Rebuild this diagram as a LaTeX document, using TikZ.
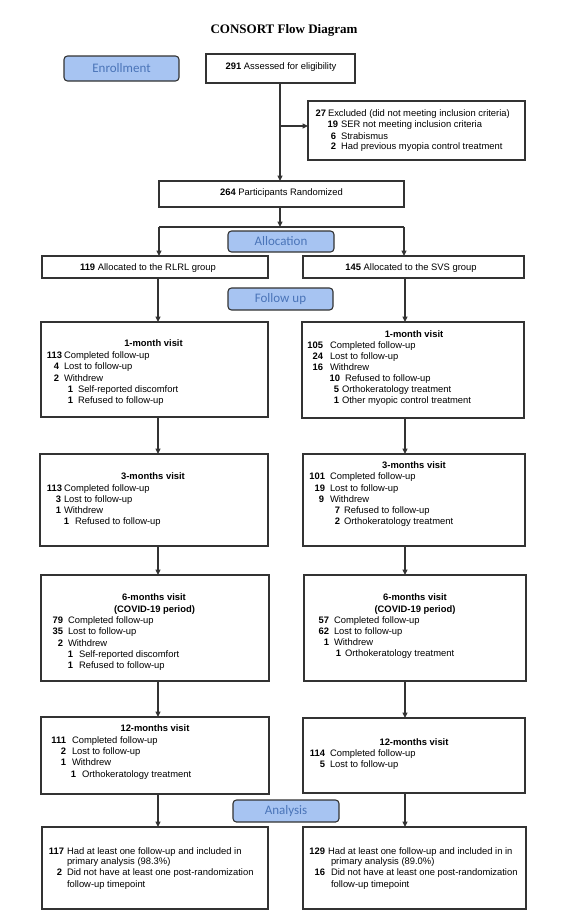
\documentclass[tikz,border=0pt]{standalone}
\usepackage{fontspec}
\setmainfont{Liberation Sans}
\newfontfamily\serifbf{Liberation Serif}
\newfontfamily\calib{Carlito}
\usetikzlibrary{arrows.meta}
\definecolor{ln}{HTML}{333333}
\definecolor{phfill}{HTML}{A7C4F2}
\definecolor{phtext}{HTML}{4A74B8}
\tikzset{
  box/.style={draw=ln, line width=1.1pt, fill=white, inner sep=0pt, outer sep=0pt},
  phase/.style={draw=ln, line width=1.1pt, fill=phfill, rounded corners=3.5pt, inner sep=0pt, outer sep=0pt, text=phtext, font=\calib\fontsize{13}{15}\selectfont},
  txt/.style={inner sep=0pt, outer sep=0pt, font=\fontsize{9.4}{11}\selectfont, text=black},
  numt/.style={txt, font=\fontsize{9.4}{11}\selectfont\bfseries},
  ttl/.style={txt, anchor=mid, font=\fontsize{9.4}{11}\selectfont\bfseries},
  arr/.style={draw=ln, line width=1.1pt, -{Triangle[length=5.5pt,width=5pt]}},
  con/.style={draw=ln, line width=1.1pt},
}
\newcounter{tn}
% box: name, x1, y1, x2, y2
\newcommand\bx[5]{\node[box, minimum width={(#4)-(#2)}, minimum height={(#5)-(#3)}] (#1) at ({((#2)+(#4))/2},{((#3)+(#5))/2}) {};}
% phase label: name, x1, y1, x2, y2, text
\newcommand\ph[6]{\node[phase, minimum width={(#4)-(#2)}, minimum height={(#5)-(#3)}] (#1) at ({((#2)+(#4))/2},{((#3)+(#5))/2}) {#6};}
% entry: number right edge, text left edge, y, number, text
\newcommand\ent[5]{\stepcounter{tn}%
  \node[numt, anchor=mid east] (n\thetn) at (#1,#3) {#4};%
  \node[txt, anchor=mid west] (t\thetn) at (#2,#3) {#5};}
\newcommand\cont[3]{\stepcounter{tn}%
  \node[txt, anchor=mid west] (c\thetn) at (#1,#2) {#3};}
\newcommand\ttlnode[3]{\stepcounter{tn}%
  \node[ttl] (h\thetn) at (#1,#2) {#3};}
\begin{document}
\begin{tikzpicture}[x=1pt,y=-1pt]
\useasboundingbox (0,0) rectangle (574,921);

\node[inner sep=0pt, font=\serifbf\bfseries\fontsize{13}{15}\selectfont] (title) at (284,30) {CONSORT Flow Diagram};

% phase labels
\ph{enr}{64}{56}{179}{81}{Enrollment}
\ph{alloc}{228}{231}{334}{252}{Allocation}
\ph{fup}{228}{288}{333}{310}{Follow up}
\ph{anal}{233}{800}{339}{822}{Analysis}

% boxes
\bx{assess}{206}{54}{355}{83}
\bx{excl}{308}{101}{525}{160}
\bx{rand}{159}{181}{404}{207}
\bx{rlrl}{42}{256}{268}{278}
\bx{svs}{303}{256}{524}{278}
\bx{mal}{41}{322}{268}{417}
\bx{mar}{302}{322}{524}{418}
\bx{tl}{40}{454}{268}{546}
\bx{tr}{303}{454}{525}{546}
\bx{sl}{41}{575}{269}{681}
\bx{sr}{304}{575}{526}{681}
\bx{wl}{41}{717}{269}{794}
\bx{wr}{303}{718}{525}{793}
\bx{fl}{42}{827}{268}{909}
\bx{fr}{303}{827}{526}{909}

% connectors
\coordinate (cA) at (280,0);
\coordinate (exo) at (280,126);
\coordinate (jc) at (280,227);
\coordinate (jl) at (159,227);
\coordinate (jr) at (404,227);
\coordinate (cl) at (158,0);
\coordinate (cr) at (405,0);
\draw[arr] (cA |- assess.south) -- (cA |- rand.north);
\draw[arr] (exo) -- (exo -| excl.west);
\draw[con] (jl) -- (jr);
\draw[arr] (cA |- rand.south) -- (jc);
\draw[arr] (jl) -- (jl |- rlrl.north);
\draw[arr] (jr) -- (jr |- svs.north);
\foreach \a/\b in {rlrl/mal, mal/tl, tl/sl, sl/wl, wl/fl}
  \draw[arr] (cl |- \a.south) -- (cl |- \b.north);
\foreach \a/\b in {svs/mar, mar/tr, tr/sr, sr/wr, wr/fr}
  \draw[arr] (cr |- \a.south) -- (cr |- \b.north);

% single-line box texts
\node[txt, anchor=mid] (assesst) at (281,67) {\textbf{291} Assessed for eligibility};
\node[txt, anchor=mid] (randt) at (281.5,193) {\textbf{264} Participants Randomized};
\node[txt, anchor=mid] (rlrlt) at (148,268) {\textbf{119} Allocated to the RLRL group};
\node[txt, anchor=mid] (svst) at (411,268) {\textbf{145} Allocated to the SVS group};

% excluded
\ent{326}{328}{114}{27}{Excluded (did not meeting inclusion criteria)}
\ent{338}{341}{125}{19}{SER not meeting inclusion criteria}
\ent{336}{341}{137}{6}{Strabismus}
\ent{336}{341}{147}{2}{Had previous myopia control treatment}

% 1-month left
\ttlnode{153.5}{344}{1-month visit}
\ent{62}{64}{356}{113}{Completed follow-up}
\ent{59}{64}{367}{4}{Lost to follow-up}
\ent{59}{64}{379}{2}{Withdrew}
\ent{73}{78}{390}{1}{Self-reported discomfort}
\ent{73}{78}{401}{1}{Refused to follow-up}

% 1-month right
\ttlnode{414}{335}{1-month visit}
\ent{323}{330}{346}{105}{Completed follow-up}
\ent{323}{330}{357}{24}{Lost to follow-up}
\ent{323}{330}{368}{16}{Withdrew}
\ent{340}{345}{379}{10}{Refused to follow-up}
\ent{339}{342}{390}{5}{Orthokeratology treatment}
\ent{339}{342}{401}{1}{Other myopic control treatment}

% 3-months left
\ttlnode{153}{477}{3-months visit}
\ent{62}{64}{489}{113}{Completed follow-up}
\ent{61}{64}{500}{3}{Lost to follow-up}
\ent{61}{64}{511}{1}{Withdrew}
\ent{69}{75}{522}{1}{Refused to follow-up}

% 3-months right
\ttlnode{414}{466}{3-months visit}
\ent{325}{330}{477}{101}{Completed follow-up}
\ent{325}{330}{489}{19}{Lost to follow-up}
\ent{324}{330}{500}{9}{Withdrew}
\ent{340}{344}{511}{7}{Refused to follow-up}
\ent{340}{344}{522}{2}{Orthokeratology treatment}

% 6-months left
\ttlnode{154}{598}{6-months visit}
\ttlnode{154.5}{610}{(COVID-19 period)}
\ent{63}{68}{621}{79}{Completed follow-up}
\ent{63}{68}{632}{35}{Lost to follow-up}
\ent{63}{68}{644}{2}{Withdrew}
\ent{73}{79}{655}{1}{Self-reported discomfort}
\ent{73}{79}{666}{1}{Refused to follow-up}

% 6-months right
\ttlnode{415}{598}{6-months visit}
\ttlnode{415}{610}{(COVID-19 period)}
\ent{329}{334}{621}{57}{Completed follow-up}
\ent{329}{334}{632}{62}{Lost to follow-up}
\ent{329}{334}{643}{1}{Withdrew}
\ent{341}{345}{654}{1}{Orthokeratology treatment}

% 12-months left
\ttlnode{155}{729}{12-months visit}
\ent{66}{72}{741}{111}{Completed follow-up}
\ent{66}{72}{752}{2}{Lost to follow-up}
\ent{66}{72}{763}{1}{Withdrew}
\ent{76}{82}{775}{1}{Orthokeratology treatment}

% 12-months right
\ttlnode{414}{743}{12-months visit}
\ent{325}{330}{754}{114}{Completed follow-up}
\ent{325}{330}{765}{5}{Lost to follow-up}

% analysis left
\ent{64}{67}{852}{117}{Had at least one follow-up and included in}
\cont{67}{862}{primary analysis (98.3\%)}
\ent{62}{67}{873}{2}{Did not have at least one post-randomization}
\cont{67}{885}{follow-up timepoint}

% analysis right
\ent{325}{328}{852}{129}{Had at least one follow-up and included in in}
\cont{331}{862}{primary analysis (89.0\%)}
\ent{325}{331}{873}{16}{Did not have at least one post-randomization}
\cont{331}{885}{follow-up timepoint}
\end{tikzpicture}
\end{document}
